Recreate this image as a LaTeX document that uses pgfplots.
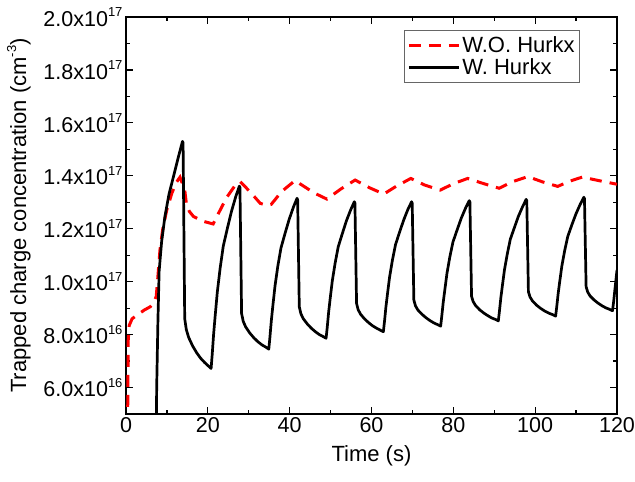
\documentclass[border=0pt]{standalone}
\usepackage{pgfplots}
\pgfplotsset{compat=1.18}
\usepackage{fontspec}
\setmainfont{Liberation Sans}
\newcommand{\sups}[1]{\raisebox{0.85ex}{\fontsize{13}{13}\selectfont #1}}
\begin{document}
\begin{tikzpicture}
\begin{axis}[
  scale only axis, width=491pt, height=397pt,
  xmin=0, xmax=120, ymin=0.5, ymax=2.0,
  xtick={0,20,40,60,80,100,120}, minor x tick num=1,
  ytick={0.6,0.8,1.0,1.2,1.4,1.6,1.8,2.0},
  yticklabels={6.0x10\sups{16},8.0x10\sups{16},1.0x10\sups{17},1.2x10\sups{17},1.4x10\sups{17},1.6x10\sups{17},1.8x10\sups{17},2.0x10\sups{17}},
  minor y tick num=1,
  tick align=inside, major tick length=7pt, minor tick length=4pt,
  axis line style={line width=1.3pt}, every tick/.style={line width=1.2pt, black},
  tick label style={font=\fontsize{21.5}{25}\selectfont},
  /pgf/number format/assume math mode=true,
  label style={font=\fontsize{22}{26}\selectfont},
  xlabel={Time (s)},
  xlabel style={yshift=-6pt},
  ylabel={Trapped charge concentration (cm\sups{-3})},
  ylabel style={yshift=6pt},
  legend style={at={(0.566,0.967)}, anchor=north west, font=\fontsize{22}{26}\selectfont, draw=black!60, line width=0.8pt, inner xsep=3pt, inner ysep=4pt, row sep=1pt},
  legend cell align=left,
  legend image code/.code={\draw[#1] (0pt,0pt) -- (50pt,0pt);},
]
\addplot[red, line width=3pt, dash pattern=on 12pt off 8pt] coordinates {
(0.35,0.3)(0.45,0.6)(0.55,0.78)(0.8,0.835)(1.5,0.86)(3,0.877)(4.5,0.893)(5.9,0.905)(6.8,0.92)(7.4,0.945)(7.8,1.02)(8.3,1.12)(9,1.2)(9.95,1.27)(11.2,1.334)(12.3,1.375)(13.2,1.395)(13.8,1.37)(14.4,1.34)(14.8,1.29)(15.5,1.265)(16.5,1.246)(18.9,1.228)(21.3,1.218)(22.6,1.258)(24.6,1.318)(26.5,1.36)(27.9,1.378)(30.3,1.34)(32.8,1.296)(34.4,1.288)(35.5,1.292)(38,1.34)(41.3,1.382)(43.5,1.36)(46,1.335)(49.1,1.312)(52.5,1.35)(56.0,1.384)(59.5,1.355)(63.0,1.331)(66,1.36)(69.6,1.39)(73,1.365)(76.8,1.346)(80,1.37)(83.5,1.39)(87.5,1.37)(91.2,1.353)(94.5,1.378)(98.2,1.397)(101.8,1.377)(105.5,1.36)(108.5,1.38)(111.5,1.395)(115.5,1.382)(120,1.368)
};
\addlegendentry{W.O. Hurkx}
\addplot[black, line width=2.7pt, line join=round] coordinates {
(7.3,0.3)(7.5,0.6)(7.8,0.85)(8.1,1.04)(8.7,1.15)(9.5,1.245)(10.5,1.33)(11.6,1.397)(12.7,1.465)(13.8,1.53)
(13.95,1.525)(14.35,0.86)(14.74,0.819)(15.32,0.789)(16.29,0.757)(17.25,0.732)(18.22,0.711)(19.19,0.695)(20.16,0.681)(20.8,0.672)
(21.08,0.727)(21.42,0.803)(21.80,0.872)(22.32,0.961)(23.01,1.051)(23.77,1.134)(24.80,1.203)(25.77,1.265)(26.80,1.320)(27.7,1.361)
(27.85,1.356)(28.25,0.88)(28.65,0.850)(29.25,0.829)(30.25,0.806)(31.24,0.788)(32.24,0.773)(33.24,0.761)(34.24,0.752)(34.9,0.745)
(35.18,0.791)(35.52,0.853)(35.90,0.910)(36.42,0.984)(37.11,1.059)(37.87,1.127)(38.90,1.184)(39.87,1.235)(40.90,1.281)(41.8,1.315)
(41.95,1.31)(42.35,0.905)(42.74,0.879)(43.33,0.860)(44.32,0.840)(45.30,0.824)(46.28,0.811)(47.26,0.800)(48.25,0.792)(48.9,0.786)
(49.18,0.827)(49.52,0.884)(49.90,0.936)(50.42,1.003)(51.11,1.070)(51.87,1.132)(52.90,1.183)(53.87,1.230)(54.90,1.271)(55.8,1.302)
(55.95,1.297)(56.35,0.918)(56.74,0.894)(57.33,0.877)(58.32,0.859)(59.30,0.845)(60.28,0.833)(61.26,0.824)(62.25,0.816)(62.9,0.811)
(63.18,0.850)(63.52,0.904)(63.90,0.953)(64.42,1.017)(65.11,1.081)(65.87,1.140)(66.90,1.189)(67.87,1.233)(68.90,1.273)(69.8,1.302)
(69.95,1.297)(70.35,0.931)(70.74,0.909)(71.33,0.893)(72.32,0.877)(73.30,0.864)(74.28,0.853)(75.26,0.844)(76.25,0.837)(76.9,0.832)
(77.18,0.870)(77.53,0.922)(77.92,0.969)(78.44,1.031)(79.14,1.093)(79.91,1.150)(80.96,1.197)(81.94,1.240)(82.99,1.278)(83.9,1.306)
(84.05,1.301)(84.45,0.945)(84.84,0.925)(85.43,0.910)(86.42,0.894)(87.40,0.882)(88.38,0.872)(89.36,0.863)(90.35,0.857)(91.0,0.852)
(91.27,0.889)(91.61,0.939)(91.99,0.985)(92.50,1.045)(93.18,1.104)(93.92,1.160)(94.94,1.205)(95.90,1.247)(96.92,1.283)(97.8,1.311)
(97.95,1.306)(98.35,0.962)(98.75,0.942)(99.35,0.927)(100.35,0.911)(101.34,0.899)(102.34,0.889)(103.34,0.881)(104.34,0.875)(105.0,0.870)
(105.28,0.906)(105.62,0.955)(106.00,1.000)(106.52,1.059)(107.21,1.117)(107.97,1.171)(109.00,1.216)(109.97,1.256)(111.00,1.292)(111.9,1.319)
(112.05,1.314)(112.45,0.981)(112.84,0.961)(113.42,0.946)(114.39,0.931)(115.35,0.919)(116.32,0.909)(117.29,0.901)(118.26,0.895)(118.9,0.890)
(119.18,0.925)(119.52,0.975)(119.9,1.03)(120,1.044)
};
\addlegendentry{W. Hurkx}
\end{axis}
\pgfresetboundingbox
\path ([shift={(-126pt,-68pt)}]current axis.south west) rectangle ([shift={(18pt,17pt)}]current axis.north east);
\end{tikzpicture}
\end{document}
